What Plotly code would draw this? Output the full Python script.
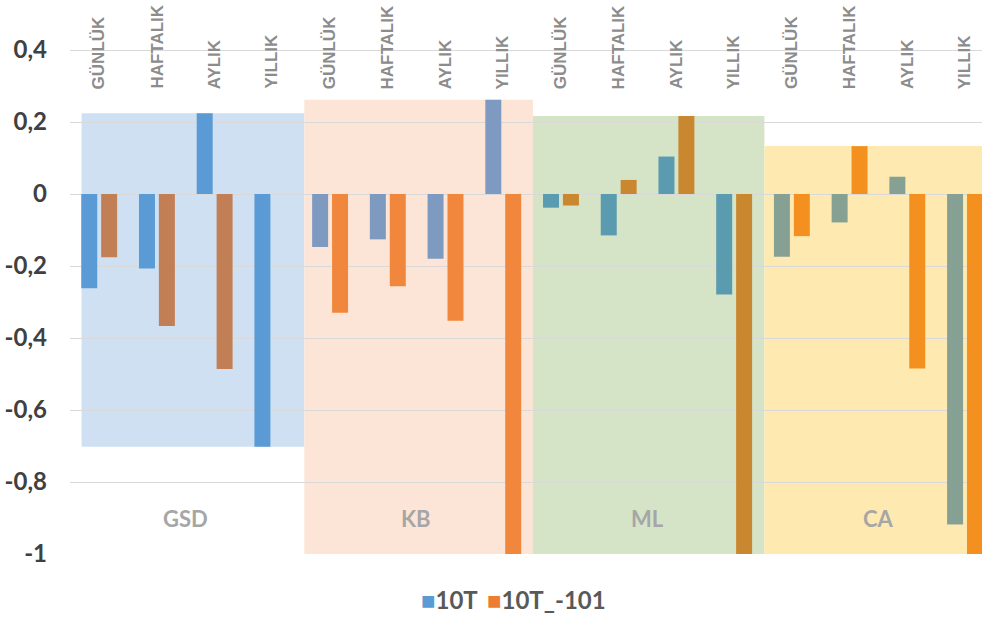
import plotly.graph_objects as go

# ---------------- data ----------------
groups = ["GSD", "KB", "ML", "CA"]
periods = ["GÜNLÜK", "HAFTALIK", "AYLIK", "YILLIK"]
series_names = ["10T", "10T_-101"]

# values per group, in period order (GÜNLÜK, HAFTALIK, AYLIK, YILLIK)
t10_gsd = [-0.262, -0.207, 0.224, -0.702]
t10_kb = [-0.147, -0.126, -0.180, 0.262]
t10_ml = [-0.038, -0.115, 0.104, -0.279]
t10_ca = [-0.174, -0.079, 0.048, -0.918]

t101_gsd = [-0.176, -0.367, -0.486, 0.0]
t101_kb = [-0.330, -0.256, -0.352, -1.0]
t101_ml = [-0.032, 0.039, 0.217, -1.0]
t101_ca = [-0.117, 0.133, -0.485, -1.0]

ytick_vals = [-1, -0.8, -0.6, -0.4, -0.2, 0, 0.2, 0.4]
ytick_text = ["-1", "-0,8", "-0,6", "-0,4", "-0,2", "0", "0,2", "0,4"]

# ---------------- styles ----------------
legend_colors = ["#5b9bd5", "#ed7d31"]
legend_x = [0.383, 0.455]          # paper coords of legend entries
# bar colours as they appear tinted inside each group's panel
t10_group_colors = ["#5b9bd5", "#7f9ac0", "#5a9bb0", "#86a193"]
t101_group_colors = ["#c27f55", "#f0873d", "#c9882f", "#f39020"]
panel_colors = ["#cfe0f2", "#fce5d6", "#d5e3c6", "#feeab0"]
panel_edges = [-0.30, 3.56, 7.52, 11.53, 15.6]
BAR_W = 0.277
OFFSETS = [-0.305, 0.04]

CAL = "Lato, Carlito, Calibri, sans-serif"
ARIAL = "Liberation Sans, Arial, sans-serif"

t10_all = [t10_gsd, t10_kb, t10_ml, t10_ca]
t101_all = [t101_gsd, t101_kb, t101_ml, t101_ca]

x_vals = list(range(len(groups) * len(periods)))
t10_vals = [v for g in t10_all for v in g]
t101_vals = [v for g in t101_all for v in g]
t10_cols = [c for c in t10_group_colors for _ in periods]
t101_cols = [c for c in t101_group_colors for _ in periods]

fig = go.Figure()
fig.add_trace(go.Bar(x=x_vals, y=t10_vals, name=series_names[0],
                     width=BAR_W, offset=OFFSETS[0],
                     marker=dict(color=t10_cols, line=dict(width=0)),
                     showlegend=False))
fig.add_trace(go.Bar(x=x_vals, y=t101_vals, name=series_names[1],
                     width=BAR_W, offset=OFFSETS[1],
                     marker=dict(color=t101_cols, line=dict(width=0)),
                     showlegend=False))

# group panels spanning each group's min..max
for i, g in enumerate(groups):
    vals = t10_all[i] + t101_all[i]
    fig.add_shape(type="rect", xref="x", yref="y",
                  x0=panel_edges[i], x1=panel_edges[i + 1],
                  y0=min(vals), y1=max(vals),
                  fillcolor=panel_colors[i], line=dict(width=0),
                  layer="below")
    fig.add_annotation(x=i * len(periods) + 1.5, y=-0.9, xref="x", yref="y",
                       text=g, showarrow=False,
                       font=dict(family=CAL, size=22, color="#a6a6a6",
                                 weight="bold"))

# period labels at the top
for i in x_vals:
    fig.add_annotation(x=i, y=0.286, xref="x", yref="y",
                       text=periods[i % len(periods)], showarrow=False,
                       textangle=-90, yanchor="bottom", xanchor="center",
                       font=dict(family=ARIAL, size=17, color="#8c8c8c",
                                 weight="bold"))

# legend (compact, Excel style: square swatch right next to the name)
for name, col, lx in zip(series_names, legend_colors, legend_x):
    fig.add_annotation(x=lx, y=-0.083, xref="paper", yref="paper",
                       xanchor="left", yanchor="middle", showarrow=False,
                       text=f"<span style='color:{col}'>■</span>{name}",
                       font=dict(family=CAL, size=24, color="#595959",
                                 weight="bold"))

fig.update_layout(
    width=982, height=619,
    margin=dict(l=70, r=0, t=0, b=65, autoexpand=False),
    paper_bgcolor="white", plot_bgcolor="white",
    barmode="overlay",
    showlegend=False,
    xaxis=dict(range=[-0.5, 15.30], showticklabels=False, showgrid=False,
               zeroline=False, showline=False, ticks="", automargin=False),
    yaxis=dict(range=[-1, 0.5389], tickvals=ytick_vals, ticktext=ytick_text,
               showgrid=True, gridcolor="#d9d9d9", gridwidth=1,
               zeroline=False, showline=False, ticks="", automargin=False,
               ticklabelstandoff=22,
               tickfont=dict(family=CAL, size=24, color="#404040",
                             weight="bold")),
)

fig.write_html("out.html", config={"displayModeBar": False},
               post_script="document.body.style.margin='0';"
                           "document.body.style.overflow='hidden';")
